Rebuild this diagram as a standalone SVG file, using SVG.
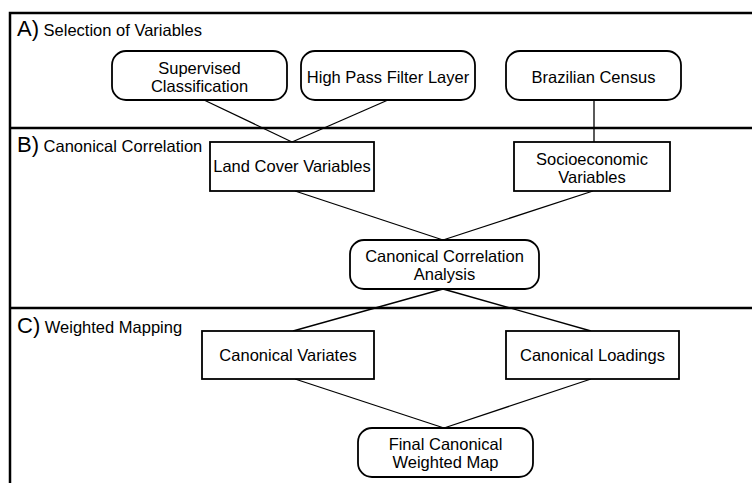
<svg xmlns="http://www.w3.org/2000/svg" width="752" height="483" viewBox="0 0 752 483">
<style>
text{font-family:"Liberation Sans",Arial,sans-serif;font-size:16.5px;fill:#000}
.c{text-anchor:middle}
.big{font-size:22px}
.node{fill:#fff;stroke:#000;stroke-width:1.8}
.frame{stroke:#000;stroke-width:2.5;fill:none}
.conn line{stroke:#000;stroke-width:1.3}
</style>
<rect width="752" height="483" fill="#fff"/>
<g id="frame">
<path class="frame" d="M10,484 V13 H753"/>
<line class="frame" x1="10" y1="128" x2="753" y2="128"/>
<line class="frame" x1="10" y1="308" x2="753" y2="308"/>
</g>
<g id="sectionA"><text x="17" y="36"><tspan class="big">A)</tspan> Selection of Variables</text></g>
<g id="sectionB"><text x="17" y="152"><tspan class="big">B)</tspan> Canonical Correlation</text></g>
<g id="sectionC"><text x="17" y="333"><tspan class="big">C)</tspan> Weighted Mapping</text></g>
<g class="conn" id="connectors">
<line x1="204" y1="100" x2="292" y2="142"/>
<line x1="388" y1="100" x2="292" y2="142"/>
<line x1="594" y1="100" x2="594" y2="142"/>
<line x1="295" y1="191" x2="443" y2="240"/>
<line x1="593" y1="191" x2="443" y2="240"/>
<line x1="443" y1="289" x2="293" y2="331"/>
<line x1="443" y1="289" x2="591" y2="331"/>
<line x1="295" y1="379" x2="444" y2="428"/>
<line x1="591" y1="379" x2="444" y2="428"/>
</g>
<g id="supervised"><rect class="node" x="112" y="51" width="175" height="49" rx="14"/><text class="c" x="199.5" y="74">Supervised</text><text class="c" x="199.5" y="92">Classification</text></g>
<g id="highpass"><rect class="node" x="301" y="51" width="174" height="49" rx="14"/><text class="c" x="388" y="83">High Pass Filter Layer</text></g>
<g id="census"><rect class="node" x="506" y="51" width="175" height="49" rx="14"/><text class="c" x="593.5" y="83">Brazilian Census</text></g>
<g id="landcover"><rect class="node" x="210" y="142" width="164" height="49"/><text class="c" x="292" y="172">Land Cover Variables</text></g>
<g id="socio"><rect class="node" x="514" y="142" width="156" height="49"/><text class="c" x="592" y="165">Socioeconomic</text><text class="c" x="592" y="183">Variables</text></g>
<g id="cca"><rect class="node" x="350" y="240" width="189" height="49" rx="14"/><text class="c" x="444.5" y="262">Canonical Correlation</text><text class="c" x="444.5" y="280">Analysis</text></g>
<g id="variates"><rect class="node" x="202" y="331" width="172" height="48"/><text class="c" x="288" y="361">Canonical Variates</text></g>
<g id="loadings"><rect class="node" x="506" y="331" width="173" height="48"/><text class="c" x="592.5" y="361">Canonical Loadings</text></g>
<g id="final"><rect class="node" x="358" y="428" width="175" height="49" rx="14"/><text class="c" x="445.5" y="450">Final Canonical</text><text class="c" x="445.5" y="468">Weighted Map</text></g>
</svg>
